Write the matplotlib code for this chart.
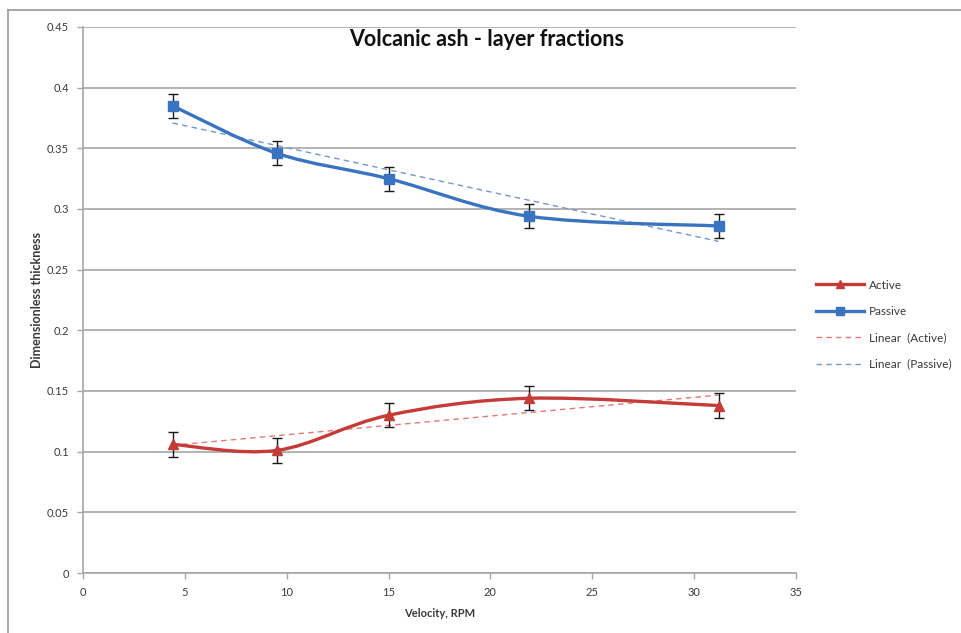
import numpy as np
import matplotlib
matplotlib.use("Agg")
import matplotlib.pyplot as plt
from matplotlib.path import Path
from matplotlib.patches import PathPatch
from matplotlib.lines import Line2D

plt.rcParams['font.family'] = ['Lato', 'DejaVu Sans']

# Measured layer fractions vs drum velocity
velocity = [4.4, 9.5, 15.0, 21.9, 31.2]
active = [0.106, 0.101, 0.130, 0.144, 0.138]
passive = [0.385, 0.346, 0.325, 0.294, 0.286]
active_err = [0.010, 0.010, 0.010, 0.010, 0.010]
passive_err = [0.010, 0.010, 0.010, 0.010, 0.010]

RED = '#C43B37'
BLUE = '#3A74C1'
RED_TREND = '#E07B78'
BLUE_TREND = '#7198CF'
GRID = '#A6A6A6'
TXT = '#3A3A3A'


def smooth_path(x, y):
    """Cubic Bezier through the points, Excel-style smoothed line."""
    pts = np.column_stack([x, y]).astype(float)
    ext = np.vstack([pts[0], pts, pts[-1]])
    verts = [pts[0]]
    codes = [Path.MOVETO]
    for i in range(len(pts) - 1):
        p0, p1, p2, p3 = ext[i], ext[i + 1], ext[i + 2], ext[i + 3]
        c1 = p1 + (p2 - p0) / 6.0
        c2 = p2 - (p3 - p1) / 6.0
        verts += [c1, c2, p2]
        codes += [Path.CURVE4] * 3
    return Path(verts, codes)


fig = plt.figure(figsize=(9.61, 6.33), dpi=100)
ax = fig.add_axes([83 / 961, 60 / 633, 713 / 961, 546 / 633])

# chart frame (top and left edges)
fig.add_artist(Line2D([8 / 961, 8 / 961], [0, 1 - 10 / 633], color='#9A9A9A', lw=1.2,
                      transform=fig.transFigure))
fig.add_artist(Line2D([8 / 961, 1], [1 - 10 / 633, 1 - 10 / 633], color='#9A9A9A', lw=1.2,
                      transform=fig.transFigure))

ax.set_xlim(0, 35)
ax.set_ylim(0, 0.45)
ax.set_xticks(np.arange(0, 36, 5))
ax.set_yticks(np.arange(0, 0.451, 0.05))
ax.set_yticklabels(['0', '0.05', '0.1', '0.15', '0.2', '0.25', '0.3', '0.35', '0.4', '0.45'])
ax.grid(axis='y', color=GRID, lw=1.2)
ax.set_axisbelow(True)
for s in ['top', 'right']:
    ax.spines[s].set_visible(False)
for s in ['left', 'bottom']:
    ax.spines[s].set_color(GRID)
    ax.spines[s].set_linewidth(1.2)
ax.tick_params(direction='out', length=4, color=GRID, width=1.0,
               labelsize=8, labelcolor=TXT, pad=6)

# linear trendlines fitted to each series
xs = np.array([velocity[0], velocity[-1]])
for ys, col in [(active, RED_TREND), (passive, BLUE_TREND)]:
    k, b = np.polyfit(velocity, ys, 1)
    ax.plot(xs, k * xs + b, ls=(0, (4, 3)), color=col, lw=1.0, zorder=2)

# smoothed series lines
for ys, col in [(active, RED), (passive, BLUE)]:
    ax.add_patch(PathPatch(smooth_path(velocity, ys), fill=False, edgecolor=col,
                           lw=2.4, capstyle='round', zorder=3))

# markers with error bars
ax.errorbar(velocity, active, yerr=active_err, fmt='^', color=RED, ms=6.5,
            ecolor='#1A1A1A', elinewidth=1.0, capsize=3.5, capthick=1.0, zorder=4)
ax.errorbar(velocity, passive, yerr=passive_err, fmt='s', color=BLUE, ms=6.5,
            ecolor='#1A1A1A', elinewidth=1.0, capsize=3.5, capthick=1.0, zorder=4)

fig.text(487 / 961, 1 - 40 / 633, 'Volcanic ash - layer fractions',
         ha='center', va='center', fontsize=15.5, fontweight='bold', color='#111111')
ax.set_xlabel('Velocity, RPM', fontsize=8, fontweight='bold', color=TXT, labelpad=7)
ax.set_ylabel('Dimensionless thickness', fontsize=9, fontweight='bold', color=TXT, labelpad=3)

handles = [
    Line2D([], [], color=RED, lw=2.4, marker='^', ms=6),
    Line2D([], [], color=BLUE, lw=2.4, marker='s', ms=6),
    Line2D([], [], color=RED_TREND, lw=1.0, ls=(0, (4, 3))),
    Line2D([], [], color=BLUE_TREND, lw=1.0, ls=(0, (4, 3))),
]
labels = ['Active', 'Passive', 'Linear  (Active)', 'Linear  (Passive)']
fig.legend(handles, labels, loc='upper left', bbox_to_anchor=(805 / 961, 1 - 269 / 633),
           frameon=False, fontsize=8.5, handlelength=4.1, handletextpad=0.45,
           labelspacing=1.3, labelcolor=TXT)

fig.savefig('out.png', dpi=100)
